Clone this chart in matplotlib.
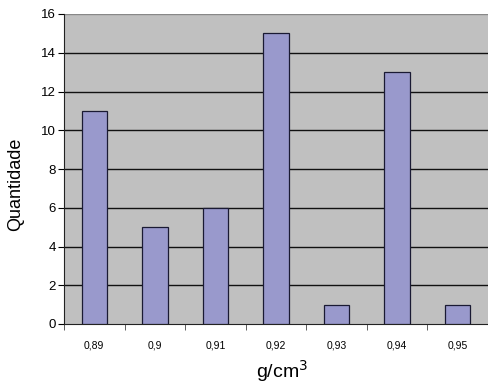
import numpy as np
import matplotlib.pyplot as plt

# dados
densidades = ['0,89', '0,9', '0,91', '0,92', '0,93', '0,94', '0,95']
quantidade = [11, 5, 6, 15, 1, 13, 1]

plt.rcParams['font.family'] = ['Liberation Sans', 'DejaVu Sans']

fig = plt.figure(figsize=(4.88, 3.88), dpi=100)
ax = fig.add_axes([64 / 488, 64 / 388, 1 - 64 / 488, 310 / 388])
ax.set_facecolor('#C0C0C0')

x = np.arange(len(densidades))
ax.bar(x, quantidade, width=0.42, color='#9999CC', edgecolor='#1a1a33', linewidth=0.9, zorder=3)

ax.set_ylim(0, 16)
ax.set_yticks(range(0, 17, 2))
ax.set_xlim(-0.5, len(densidades) - 0.5 - 10 / 62)

# grade horizontal
for v in range(2, 16, 2):
    ax.axhline(v, color='#111111', linewidth=1.0, zorder=1)

ax.set_xticks(x)
ax.set_xticklabels(densidades, fontsize=7.5)
ax.set_xticks(np.arange(-0.5, len(densidades), 1.0), minor=True)
ax.tick_params(axis='x', which='major', length=0, pad=12)
ax.tick_params(axis='x', which='minor', length=4, direction='out', color='#444444')
ax.tick_params(axis='y', length=4, direction='out', labelsize=9.5, pad=2)

for s in ['top', 'right']:
    ax.spines[s].set_visible(False)
ax.spines['left'].set_color('#222222')
ax.spines['bottom'].set_color('#222222')
ax.axhline(16, color='#888888', linewidth=1.0, zorder=1)

ax.set_ylabel('Quantidade', fontsize=13, labelpad=7)
ax.yaxis.set_label_coords(-0.095, 0.45)
ax.set_xlabel('g/cm$^3$', fontsize=14, labelpad=3)
ax.xaxis.set_label_coords(0.514, -0.11)

plt.savefig('out.png', dpi=100)
plt.close()
